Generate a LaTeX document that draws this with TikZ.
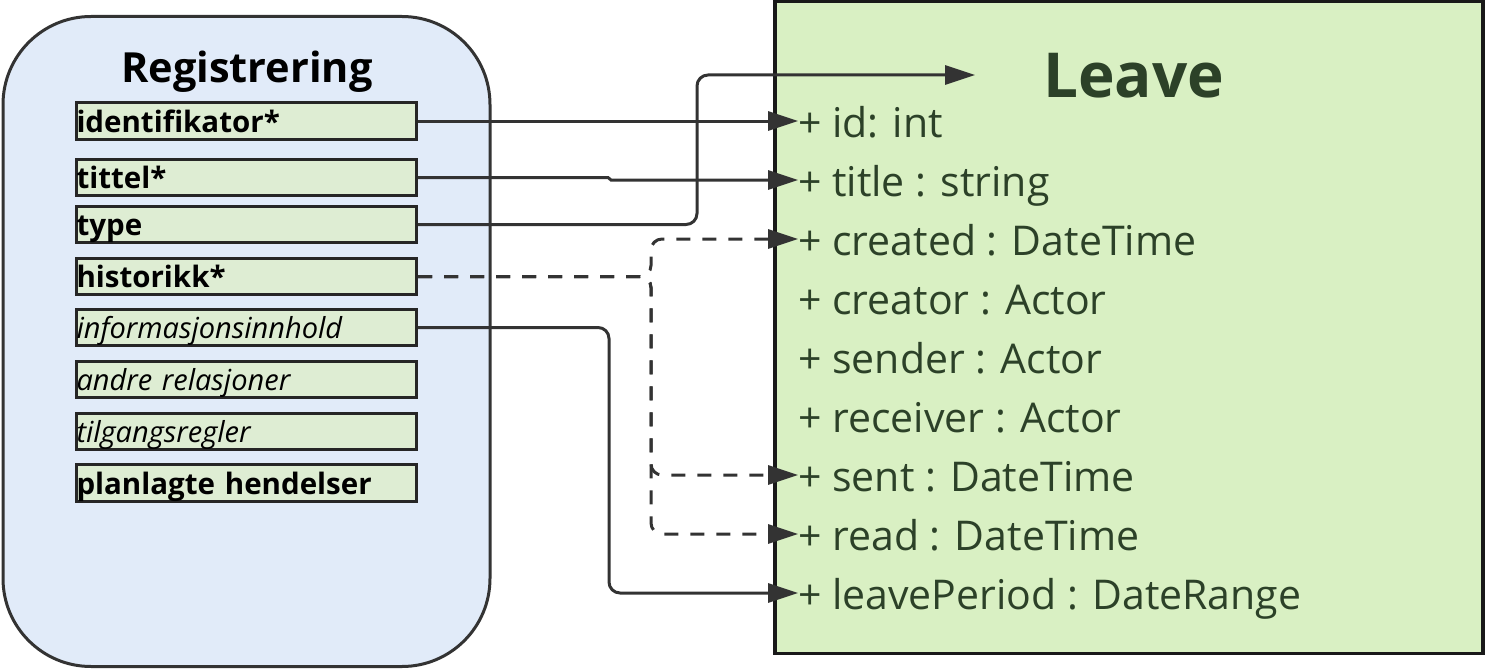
\documentclass[tikz,border=0pt]{standalone}
\usepackage{fontspec}
\setmainfont{Open Sans}
\usetikzlibrary{arrows.meta}
\definecolor{panelfill}{HTML}{E1EBF9}
\definecolor{itemfill}{HTML}{DEEDD3}
\definecolor{leavefill}{HTML}{D9F0C3}
\definecolor{leavetext}{HTML}{2C4128}
\definecolor{linec}{HTML}{333333}
\begin{document}
\begin{tikzpicture}[x=1pt,y=-1pt,
  panel/.style={draw=linec, line width=3pt, fill=panelfill, rounded corners=88pt, inner sep=0pt},
  leavebox/.style={draw=black!90, line width=3.2pt, fill=leavefill, inner sep=0pt},
  item/.style={draw=black!85, line width=3.2pt, fill=itemfill, minimum width=340pt, minimum height=36.5pt,
    inner xsep=0pt, inner ysep=0pt, text width=340pt, align=left, text height=22pt, text depth=0pt,
    font=\fontsize{29}{34}\selectfont},
  bitem/.style={item, font=\fontsize{29.5}{34}\selectfont\bfseries},
  iitem/.style={item, font=\fontsize{29}{34}\selectfont\itshape},
  attr/.style={anchor=west, inner sep=0pt, text height=32pt, text depth=0pt, text=leavetext,
    font=\fontsize{41}{48}\selectfont},
  conn/.style={draw=linec, line width=3pt, -{Triangle[length=30pt,width=19pt]}, rounded corners=11pt},
  dconn/.style={conn, dash pattern=on 14pt off 12pt}
]
\useasboundingbox (0,0) rectangle (1492,669);

% panels
\node[panel, minimum width=487pt, minimum height=650pt] (reg) at (246.5,341.5) {};
\node[leavebox, minimum width=708pt, minimum height=652pt] (leave) at (1129,327.5) {};

% titles
\node[font=\fontsize{41.5}{50}\selectfont\bfseries, anchor=base, inner sep=0pt] (regtitle) at (247,83) {Registrering};
\node[font=\fontsize{62}{74}\selectfont\bfseries, text=leavetext, anchor=base, inner sep=0pt] (leavetitle) at (1133.5,98) {Leave};

% items
\node[bitem] (ident) at (246.5,121) {identifikator*};
\node[bitem] (tittel) at (246.5,177.5) {tittel*};
\node[bitem] (type) at (246.5,224.5) {type};
\node[bitem] (hist) at (246.5,276.5) {historikk*};
\node[iitem] (info) at (246.5,327.5) {informasjonsinnhold};
\node[iitem] (andre) at (246.5,379.5) {andre relasjoner};
\node[iitem] (tilg) at (246.5,431.5) {tilgangsregler};
\node[bitem] (plan) at (246.5,483) {planlagte hendelser};

% attributes
\node[attr] (aid) at (798,121) {+ id: int};
\node[attr] (atitle) at (798,180) {+ title : string};
\node[attr] (acreated) at (798,239) {+ created : DateTime};
\node[attr] (acreator) at (798,298) {+ creator : Actor};
\node[attr] (asender) at (798,357) {+ sender : Actor};
\node[attr] (areceiver) at (798,416) {+ receiver : Actor};
\node[attr] (asent) at (798,475) {+ sent : DateTime};
\node[attr] (aread) at (798,534) {+ read : DateTime};
\node[attr] (aperiod) at (798,593) {+ leavePeriod : DateRange};

% helper coordinates
\coordinate (tv) at (697,75);
\coordinate (typeend) at (975,75);
\coordinate (hx) at (651,0);
\coordinate (ix) at (609,0);
\coordinate (tj) at (608,0);
\coordinate (tj2) at (611,0);

% connectors
\draw[conn] (ident.east) -- (aid.west);
\draw[conn, rounded corners=0pt] (tittel.east) -- (tittel.east -| tj) -- (atitle.west -| tj2) -- (atitle.west);
\draw[conn] (type.east) -| (tv) -- (typeend);
\draw[dconn] (hist.east) -- (hist.east -| hx) -- (acreated.west -| hx) -- (acreated.west);
\draw[dconn] (hist.east) -- (hist.east -| hx) -- (asent.west -| hx) -- (asent.west);
\draw[dconn] (hist.east) -- (hist.east -| hx) -- (aread.west -| hx) -- (aread.west);
\draw[conn] (info.east) -- (info.east -| ix) -- (aperiod.west -| ix) -- (aperiod.west);
\end{tikzpicture}
\end{document}
